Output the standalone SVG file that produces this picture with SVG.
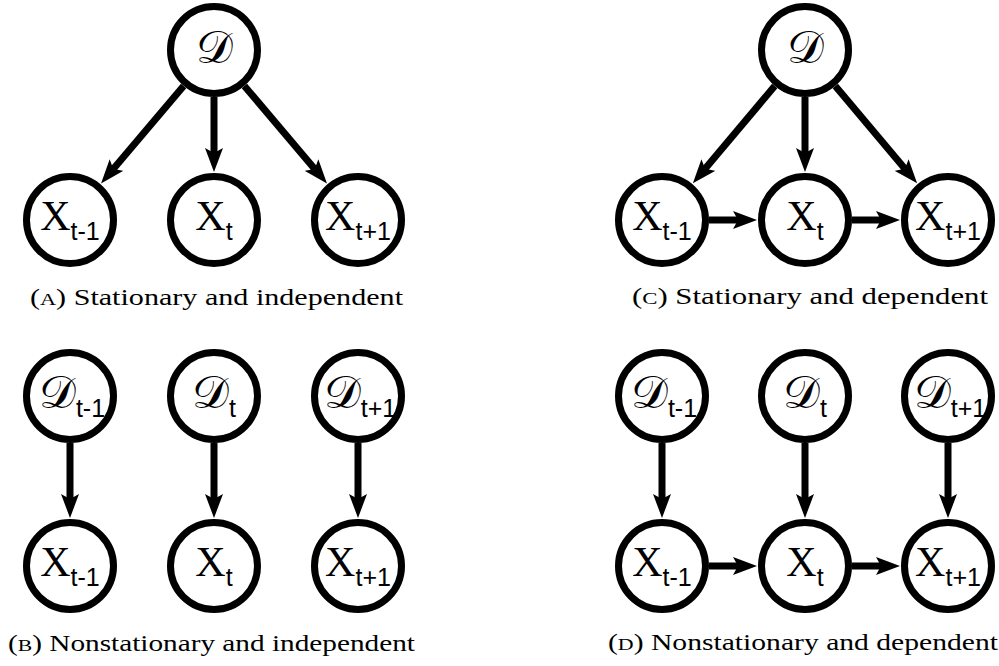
<svg xmlns="http://www.w3.org/2000/svg" width="999" height="666" viewBox="0 0 999 666">
  <defs>
    <style>
      .node circle { fill: #fff; stroke: #000; stroke-width: 7; }
      .lbl { font-family: "Liberation Serif", "DejaVu Serif", serif; font-size: 42px; fill: #000; text-anchor: middle; }
      .cal { font-family: "DejaVu Serif", "DejaVu Sans", serif; font-size: 46px; }
      .sub { font-family: "Liberation Sans", "DejaVu Sans", sans-serif; font-size: 25px; }
      .edge { stroke: #000; stroke-width: 7; fill: none; marker-end: url(#head); }
      .cap { font-family: "Liberation Serif", "DejaVu Serif", serif; font-size: 23px; fill: #000; }
      .sc { font-size: 17px; }
    </style>
    <marker id="head" markerUnits="userSpaceOnUse" viewBox="0 0 24 18" markerWidth="24" markerHeight="18" refX="5" refY="9" orient="auto">
      <path d="M0,0 L24,9 L0,18 L5,9 Z" fill="#000"/>
    </marker>
  </defs>

  <!-- connectors -->
  <g id="edges">
    <!-- (A) stationary, independent -->
    <line class="edge" x1="183.6" y1="85.9" x2="113.3" y2="168.9"/>
    <line class="edge" x1="214" y1="97" x2="214" y2="153"/>
    <line class="edge" x1="244.4" y1="85.9" x2="314.7" y2="168.9"/>
    <!-- (C) stationary, dependent -->
    <line class="edge" x1="774.7" y1="86" x2="705.1" y2="168.8"/>
    <line class="edge" x1="805" y1="97" x2="805" y2="153"/>
    <line class="edge" x1="835.3" y1="86" x2="904.9" y2="168.8"/>
    <line class="edge" x1="709" y1="220" x2="738" y2="220"/>
    <line class="edge" x1="852" y1="220" x2="881" y2="220"/>
    <!-- (B) nonstationary, independent -->
    <line class="edge" x1="70" y1="443" x2="70" y2="499"/>
    <line class="edge" x1="214" y1="443" x2="214" y2="499"/>
    <line class="edge" x1="358" y1="443" x2="358" y2="499"/>
    <!-- (D) nonstationary, dependent -->
    <line class="edge" x1="662" y1="443" x2="662" y2="499"/>
    <line class="edge" x1="805" y1="443" x2="805" y2="499"/>
    <line class="edge" x1="948" y1="443" x2="948" y2="499"/>
    <line class="edge" x1="709" y1="566" x2="738" y2="566"/>
    <line class="edge" x1="852" y1="566" x2="881" y2="566"/>
  </g>

  <!-- (A) -->
  <g id="a-D" class="node"><circle cx="214" cy="50" r="43.5"/><text class="lbl cal" x="214" y="63">𝒟</text></g>
  <g id="a-Xtm1" class="node"><circle cx="70" cy="220" r="43.5"/><text class="lbl" x="70" y="230">X<tspan class="sub" dy="10">t-1</tspan></text></g>
  <g id="a-Xt" class="node"><circle cx="214" cy="220" r="43.5"/><text class="lbl" x="214" y="230">X<tspan class="sub" dy="10">t</tspan></text></g>
  <g id="a-Xtp1" class="node"><circle cx="358" cy="220" r="43.5"/><text class="lbl" x="358" y="230">X<tspan class="sub" dy="10">t+1</tspan></text></g>

  <!-- (C) -->
  <g id="c-D" class="node"><circle cx="805" cy="50" r="43.5"/><text class="lbl cal" x="805" y="63">𝒟</text></g>
  <g id="c-Xtm1" class="node"><circle cx="662" cy="220" r="43.5"/><text class="lbl" x="662" y="230">X<tspan class="sub" dy="10">t-1</tspan></text></g>
  <g id="c-Xt" class="node"><circle cx="805" cy="220" r="43.5"/><text class="lbl" x="805" y="230">X<tspan class="sub" dy="10">t</tspan></text></g>
  <g id="c-Xtp1" class="node"><circle cx="948" cy="220" r="43.5"/><text class="lbl" x="948" y="230">X<tspan class="sub" dy="10">t+1</tspan></text></g>

  <!-- (B) -->
  <g id="b-Dtm1" class="node"><circle cx="70" cy="396" r="43.5"/><text class="lbl cal" x="72" y="408">𝒟<tspan class="sub" dy="9">t-1</tspan></text></g>
  <g id="b-Dt" class="node"><circle cx="214" cy="396" r="43.5"/><text class="lbl cal" x="214" y="408">𝒟<tspan class="sub" dy="9">t</tspan></text></g>
  <g id="b-Dtp1" class="node"><circle cx="358" cy="396" r="43.5"/><text class="lbl cal" x="360" y="408">𝒟<tspan class="sub" dy="9">t+1</tspan></text></g>
  <g id="b-Xtm1" class="node"><circle cx="70" cy="566" r="43.5"/><text class="lbl" x="70" y="576">X<tspan class="sub" dy="10">t-1</tspan></text></g>
  <g id="b-Xt" class="node"><circle cx="214" cy="566" r="43.5"/><text class="lbl" x="214" y="576">X<tspan class="sub" dy="10">t</tspan></text></g>
  <g id="b-Xtp1" class="node"><circle cx="358" cy="566" r="43.5"/><text class="lbl" x="358" y="576">X<tspan class="sub" dy="10">t+1</tspan></text></g>

  <!-- (D) -->
  <g id="d-Dtm1" class="node"><circle cx="662" cy="396" r="43.5"/><text class="lbl cal" x="664" y="408">𝒟<tspan class="sub" dy="9">t-1</tspan></text></g>
  <g id="d-Dt" class="node"><circle cx="805" cy="396" r="43.5"/><text class="lbl cal" x="805" y="408">𝒟<tspan class="sub" dy="9">t</tspan></text></g>
  <g id="d-Dtp1" class="node"><circle cx="948" cy="396" r="43.5"/><text class="lbl cal" x="950" y="408">𝒟<tspan class="sub" dy="9">t+1</tspan></text></g>
  <g id="d-Xtm1" class="node"><circle cx="662" cy="566" r="43.5"/><text class="lbl" x="662" y="576">X<tspan class="sub" dy="10">t-1</tspan></text></g>
  <g id="d-Xt" class="node"><circle cx="805" cy="566" r="43.5"/><text class="lbl" x="805" y="576">X<tspan class="sub" dy="10">t</tspan></text></g>
  <g id="d-Xtp1" class="node"><circle cx="948" cy="566" r="43.5"/><text class="lbl" x="948" y="576">X<tspan class="sub" dy="10">t+1</tspan></text></g>

  <!-- captions -->
  <g id="captions">
    <text class="cap" x="30" y="305" textLength="373" lengthAdjust="spacingAndGlyphs">(<tspan class="sc">A</tspan>) Stationary and independent</text>
    <text class="cap" x="632" y="304" textLength="356" lengthAdjust="spacingAndGlyphs">(<tspan class="sc">C</tspan>) Stationary and dependent</text>
    <text class="cap" x="8" y="651" textLength="407" lengthAdjust="spacingAndGlyphs">(<tspan class="sc">B</tspan>) Nonstationary and independent</text>
    <text class="cap" x="608" y="650" textLength="390" lengthAdjust="spacingAndGlyphs">(<tspan class="sc">D</tspan>) Nonstationary and dependent</text>
  </g>
</svg>
